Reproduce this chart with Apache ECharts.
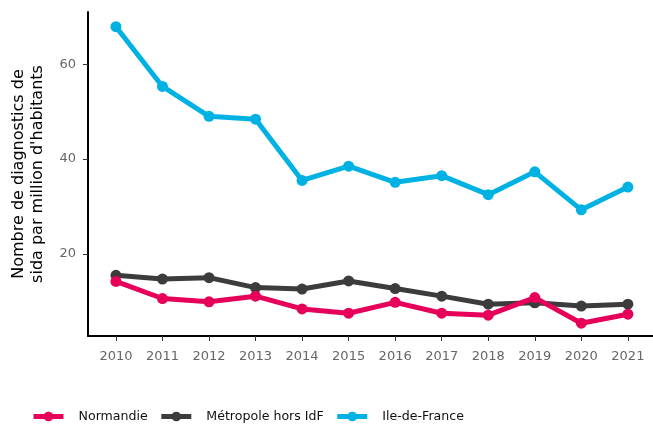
<!DOCTYPE html>
<html><head><meta charset="utf-8">
<script src="https://cdn.jsdelivr.net/npm/echarts@6/dist/echarts.min.js"></script>
<style>html,body{margin:0;padding:0;background:#fff}#c{width:653px;height:426px}</style>
</head><body><div id="c"></div>
<script>
var years = [2010,2011,2012,2013,2014,2015,2016,2017,2018,2019,2020,2021];
var normandie = [14.2,10.6,9.9,11.1,8.4,7.5,9.8,7.5,7.1,10.8,5.4,7.3];
var metropole = [15.5,14.7,15.0,12.9,12.6,14.3,12.7,11.1,9.4,9.7,9.0,9.4];
var ileDeFrance = [67.9,55.3,49.0,48.4,35.5,38.5,35.1,36.5,32.5,37.3,29.3,34.1];
var yTicks = [20,40,60];
var seriesNames = ['Normandie','Métropole hors IdF','Ile-de-France'];
var colors = ['#E6005A','#3C3C3C','#00B2E3'];

function pairs(v){ return years.map(function(y,i){ return [y, v[i]]; }); }
var font = 'DejaVu Sans';
function mk(name, vals, color, z){
  return {name:name, type:'line', data:pairs(vals), z:z,
    symbol:'circle', symbolSize:11, showSymbol:true,
    lineStyle:{width:5, color:color}, itemStyle:{color:color},
    emphasis:{disabled:true}, animation:false};
}
var chart = echarts.init(document.getElementById('c'), null, {renderer:'canvas'});
chart.setOption({
  animation:false,
  textStyle:{fontFamily:font},
  grid:{left:88, right:0, top:12, bottom:90, containLabel:false, outerBoundsMode:'none'},
  legend:{left:31, top:410, padding:0, itemWidth:30, itemHeight:12, itemGap:11,
    data:seriesNames,
    lineStyle:{width:5},
    textStyle:{fontFamily:font, fontSize:12.6, color:'#111', padding:[0,0,0,10]}},
  xAxis:{type:'value', min:2009.4, max:2021.54,
    axisLine:{show:true, lineStyle:{color:'#000', width:2}},
    axisTick:{show:true, customValues:years, length:5, lineStyle:{color:'#333', width:1}},
    axisLabel:{customValues:years, margin:14, fontSize:13, color:'#666', fontFamily:font,
      formatter:function(v){return String(v);}},
    splitLine:{show:false}},
  yAxis:{type:'value', min:2.7, max:71,
    name:"Nombre de diagnostics de\nsida par million d'habitants",
    nameLocation:'middle', nameGap:41, nameRotate:90,
    nameTextStyle:{fontFamily:font, fontSize:16, color:'#000', lineHeight:19},
    axisLine:{show:true, lineStyle:{color:'#000', width:2}},
    axisTick:{show:true, customValues:yTicks, length:5, lineStyle:{color:'#333', width:1}},
    axisLabel:{customValues:yTicks, margin:12, fontSize:13, color:'#666', fontFamily:font},
    splitLine:{show:false}},
  series:[
    mk('Ile-de-France', ileDeFrance, colors[2], 2),
    mk('Métropole hors IdF', metropole, colors[1], 3),
    mk('Normandie', normandie, colors[0], 4)
  ]
});
</script></body></html>
